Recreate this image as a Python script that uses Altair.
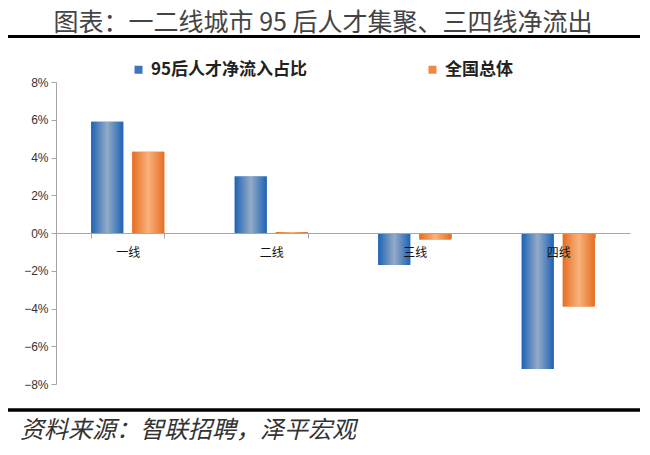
import altair as alt
import pandas as pd

categories = ["一线", "二线", "三线", "四线"]
series = ["95后人才净流入占比", "全国总体"]
talent = [0.059, 0.030, -0.017, -0.072]
national = [0.043, 0.0005, -0.0035, -0.039]
y_ticks = [-0.08, -0.06, -0.04, -0.02, 0.0, 0.02, 0.04, 0.06, 0.08]
title_text = "图表：一二线城市 95 后人才集聚、三四线净流出"
source_text = "资料来源：智联招聘，泽平宏观"

rows = []
for c, a, b in zip(categories, talent, national):
    rows.append({"cat": c, "series": series[0], "value": a})
    rows.append({"cat": c, "series": series[1], "value": b})
df = pd.DataFrame(rows)

W, H = 574, 302
CJK = "Noto Sans CJK SC"
AXC = "#A6A6A6"

x_enc = alt.X(
    "cat:N", sort=categories,
    scale=alt.Scale(domain=categories, paddingInner=0.491, paddingOuter=0.2455),
    axis=alt.Axis(title=None, orient="bottom", offset=-H / 2, labelAngle=0,
                  tickBand="extent", tickSize=5, domainColor=AXC, tickColor=AXC,
                  labelFont=CJK, labelFontSize=12, labelColor="#111",
                  labelPadding=9, zindex=1),
)
xo_enc = alt.XOffset("series:N", sort=series,
                     scale=alt.Scale(domain=series, paddingInner=0.22, paddingOuter=0))
y_enc = alt.Y(
    "value:Q",
    scale=alt.Scale(domain=[-0.08, 0.08], nice=False, zero=False),
    axis=alt.Axis(title=None, values=y_ticks, format=".0%", grid=False,
                  tickSize=5, domainColor=AXC, tickColor=AXC,
                  labelFont="Liberation Sans", labelFontSize=12, labelColor="#333",
                  labelPadding=3),
)

base = alt.Chart(df).mark_bar().encode(
    x=x_enc, xOffset=xo_enc, y=y_enc,
    color=alt.Color("series:N", sort=series,
                    scale=alt.Scale(domain=series, range=["#3E76BC", "#EE8A45"]),
                    legend=alt.Legend(orient="none", legendX=74, legendY=-21,
                                      direction="horizontal", title=None,
                                      symbolType="square", symbolSize=64,
                                      symbolStrokeWidth=0,
                                      labelFont=CJK, labelFontSize=17,
                                      labelFontWeight="bold", labelColor="#222",
                                      labelOffset=4, columnPadding=116)),
)

blue_grad = alt.Gradient(gradient="linear", x1=0, x2=1, y1=0, y2=0, stops=[
    alt.GradientStop(offset=0, color="#1E63B5"),
    alt.GradientStop(offset=0.5, color="#95ABC6"),
    alt.GradientStop(offset=1, color="#1E63B5"),
])
orange_grad = alt.Gradient(gradient="linear", x1=0, x2=1, y1=0, y2=0, stops=[
    alt.GradientStop(offset=0, color="#E46E22"),
    alt.GradientStop(offset=0.5, color="#FAB27C"),
    alt.GradientStop(offset=1, color="#E46E22"),
])

blue = alt.Chart(df).transform_filter(alt.datum.series == series[0]).mark_bar(
    fill=blue_grad).encode(x=x_enc, xOffset=xo_enc, y=y_enc)
orange = alt.Chart(df).transform_filter(alt.datum.series == series[1]).mark_bar(
    fill=orange_grad).encode(x=x_enc, xOffset=xo_enc, y=y_enc)

one = pd.DataFrame({"t": [title_text], "s": [source_text]})
title = alt.Chart(one).mark_text(font=CJK, fontSize=25, color="#444",
                                 align="center", baseline="middle").encode(
    text="t:N", x=alt.value(267), y=alt.value(-59))
source = alt.Chart(one).mark_text(font=CJK, fontSize=24, color="#333", fontStyle="italic",
                                  align="left", baseline="middle").encode(
    text="s:N", x=alt.value(-36), y=alt.value(349))
top_rule = alt.Chart(one).mark_rule(color="black", strokeWidth=3).encode(
    x=alt.value(-48), x2=alt.value(584), y=alt.value(-45.5))
bot_rule = alt.Chart(one).mark_rule(color="black", strokeWidth=3.5).encode(
    x=alt.value(-48), x2=alt.value(584), y=alt.value(328))

chart = alt.layer(base, blue, orange, title, source, top_rule, bot_rule).properties(
    width=W, height=H,
    padding={"left": 48, "top": 74, "right": 10, "bottom": 62},
    autosize=alt.AutoSizeParams(type="none"),
).configure_view(stroke=None)

chart.save("out.html", embed_options={"renderer": "svg", "actions": False})
